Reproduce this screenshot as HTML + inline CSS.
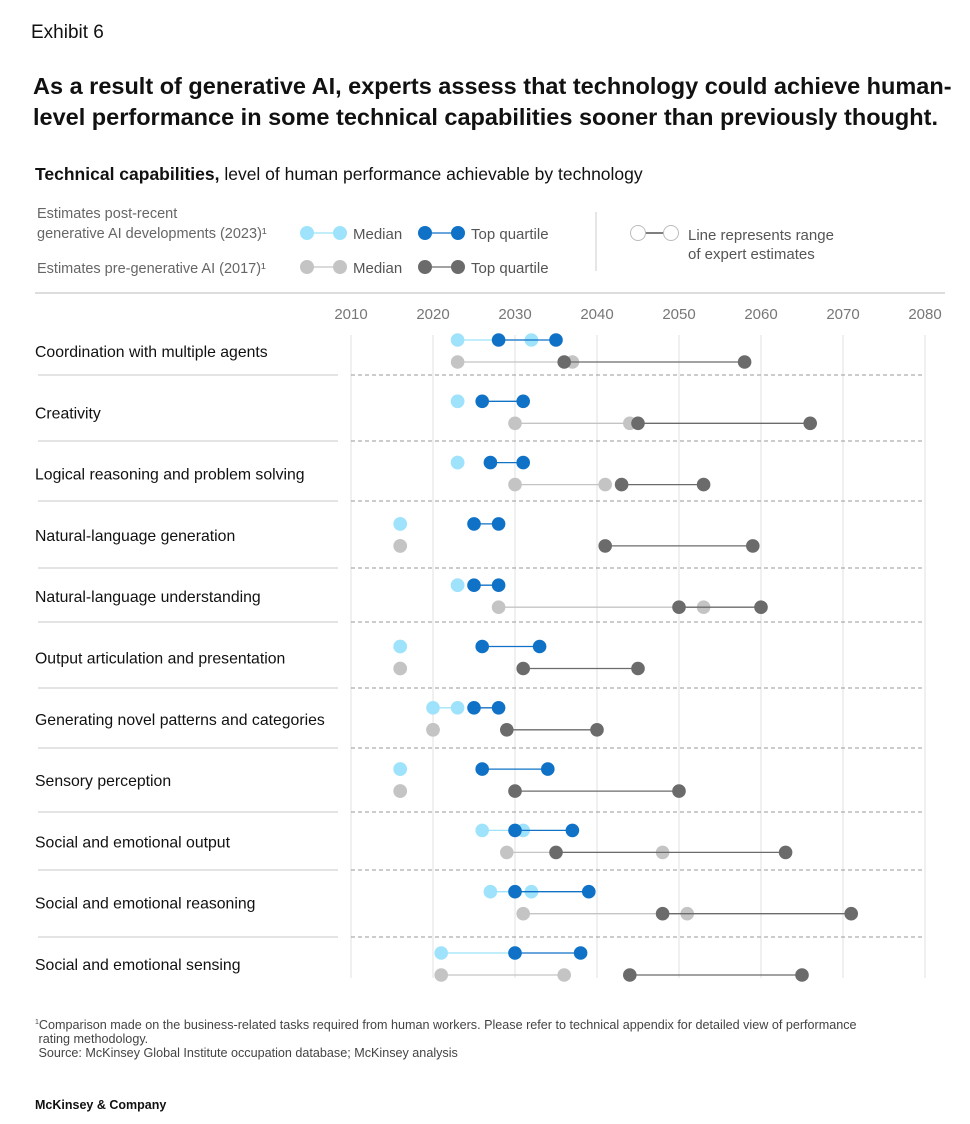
<!DOCTYPE html>
<html><head><meta charset="utf-8"><style>
body{margin:0;background:#fff;font-family:"Liberation Sans",sans-serif;color:#111;}
#wrap{position:relative;width:970px;height:1124px;overflow:hidden;}
.t{position:absolute;white-space:nowrap;}
</style></head><body>
<div id="wrap">
<div class="t" style="left:31px;top:22px;font-size:19px;">Exhibit 6</div>
<div class="t" style="left:33px;top:71px;font-size:23.5px;font-weight:bold;line-height:31px;">As a result of generative AI, experts assess that technology could achieve human-<br>level performance in some technical capabilities sooner than previously thought.</div>
<div class="t" style="left:35px;top:164px;font-size:17.5px;"><b>Technical capabilities,</b> level of human performance achievable by technology</div>
<svg id="chart" width="970" height="1124" style="position:absolute;left:0;top:0"></svg>
<div class="t" style="left:35px;top:1016px;font-size:12.6px;color:#444;line-height:14px;"><sup style="font-size:7px">1</sup>Comparison made on the business-related tasks required from human workers. Please refer to technical appendix for detailed view of performance<br>&nbsp;rating methodology.<br>&nbsp;Source: McKinsey Global Institute occupation database; McKinsey analysis</div>
<div class="t" style="left:35px;top:1098px;font-size:12.5px;font-weight:bold;">McKinsey &amp; Company</div>
</div>
<script>
const categories=["Coordination with multiple agents","Creativity","Logical reasoning and problem solving","Natural-language generation","Natural-language understanding","Output articulation and presentation","Generating novel patterns and categories","Sensory perception","Social and emotional output","Social and emotional reasoning","Social and emotional sensing"];
const median2023=[[2023,2032],[2023,2023],[2023,2023],[2016,2016],[2023,2023],[2016,2016],[2020,2023],[2016,2016],[2026,2031],[2027,2032],[2021,2030]];
const topq2023=[[2028,2035],[2026,2031],[2027,2031],[2025,2028],[2025,2028],[2026,2033],[2025,2028],[2026,2034],[2030,2037],[2030,2039],[2030,2038]];
const median2017=[[2023,2037],[2030,2044],[2030,2041],[2016,2016],[2028,2053],[2016,2016],[2020,2020],[2016,2016],[2029,2048],[2031,2051],[2021,2036]];
const topq2017=[[2036,2058],[2045,2066],[2043,2053],[2041,2059],[2050,2060],[2031,2045],[2029,2040],[2030,2050],[2035,2063],[2048,2071],[2044,2065]];
const ticks=[2010,2020,2030,2040,2050,2060,2070,2080];
const sepY=[375,441,501,568,622,688,748,812,870,937];
const svg=document.getElementById('chart');const NS='http://www.w3.org/2000/svg';
function xS(y){return 351+(y-2010)*8.2;}
function yRow(i){return 340+i*61.3;}
function mk(tag,at,txt){const e=document.createElementNS(NS,tag);for(const k in at)e.setAttribute(k,at[k]);if(txt!==undefined)e.textContent=txt;svg.appendChild(e);return e;}
let e;
e=mk('text',{x:37,y:218,'font-size':14.5,fill:'#666'},'Estimates post-recent');
e=mk('text',{x:37,y:238,'font-size':14.5,fill:'#666'},'generative AI developments (2023)¹');
e=mk('text',{x:37,y:273,'font-size':14.5,fill:'#666'},'Estimates pre-generative AI (2017)¹');
function legPair(x1,x2,y,col,lc,label,name){e=mk('line',{x1:x1,y1:y,x2:x2,y2:y,stroke:lc,'stroke-width':1.3});
[x1,x2].forEach(x=>{e=mk('circle',{cx:x,cy:y,r:7,fill:col});});
e=mk('text',{x:x2+13,y:y+6,'font-size':15,fill:'#555'},label);}
legPair(307,340,233,'#9ee3fb','#9ee3fb','Median','legend-median-2023');
legPair(425,458,233,'#0f72c6','#0f72c6','Top quartile','legend-top-quartile-2023');
legPair(307,340,267,'#c4c4c4','#c4c4c4','Median','legend-median-2017');
legPair(425,458,267,'#6b6b6b','#6b6b6b','Top quartile','legend-top-quartile-2017');
e=mk('line',{x1:596,y1:212,x2:596,y2:271,stroke:'#ccc'});
e=mk('line',{x1:638,y1:233,x2:671,y2:233,stroke:'#333','stroke-width':1.3});
[638,671].forEach(x=>{e=mk('circle',{cx:x,cy:233,r:7.5,fill:'#fff',stroke:'#bbb'});});
e=mk('text',{x:688,y:240,'font-size':15,fill:'#555'},'Line represents range');
e=mk('text',{x:688,y:259,'font-size':15,fill:'#555'},'of expert estimates');
e=mk('line',{x1:35,y1:293,x2:945,y2:293,stroke:'#bbb'});
ticks.forEach(t=>{e=mk('line',{x1:xS(t),y1:335,x2:xS(t),y2:978,stroke:'#e2e2e2'});
e=mk('text',{x:xS(t),y:319,'font-size':15,fill:'#777','text-anchor':'middle'},t);});
sepY.forEach(sy=>{
e=mk('line',{x1:38,y1:sy,x2:338,y2:sy,stroke:'#c8c8c8'});
e=mk('line',{x1:351,y1:sy,x2:925,y2:sy,stroke:'#999','stroke-dasharray':'4,3'});});
categories.forEach((c,i)=>{const y=yRow(i);
e=mk('text',{x:35,y:y+17,'font-size':15.8,fill:'#111'},c);
function pair(v,yy,col,name){e=mk('line',{x1:xS(v[0]),y1:yy,x2:xS(v[1]),y2:yy,stroke:col,'stroke-width':1.3});
v.forEach(d=>{e=mk('circle',{cx:xS(d),cy:yy,r:6.8,fill:col});});}
pair(median2023[i],y,'#9ee3fb','median-2023');
pair(topq2023[i],y,'#0f72c6','top-quartile-2023');
pair(median2017[i],y+22,'#c4c4c4','median-2017');
pair(topq2017[i],y+22,'#6b6b6b','top-quartile-2017');
});
</script>
</body></html>
